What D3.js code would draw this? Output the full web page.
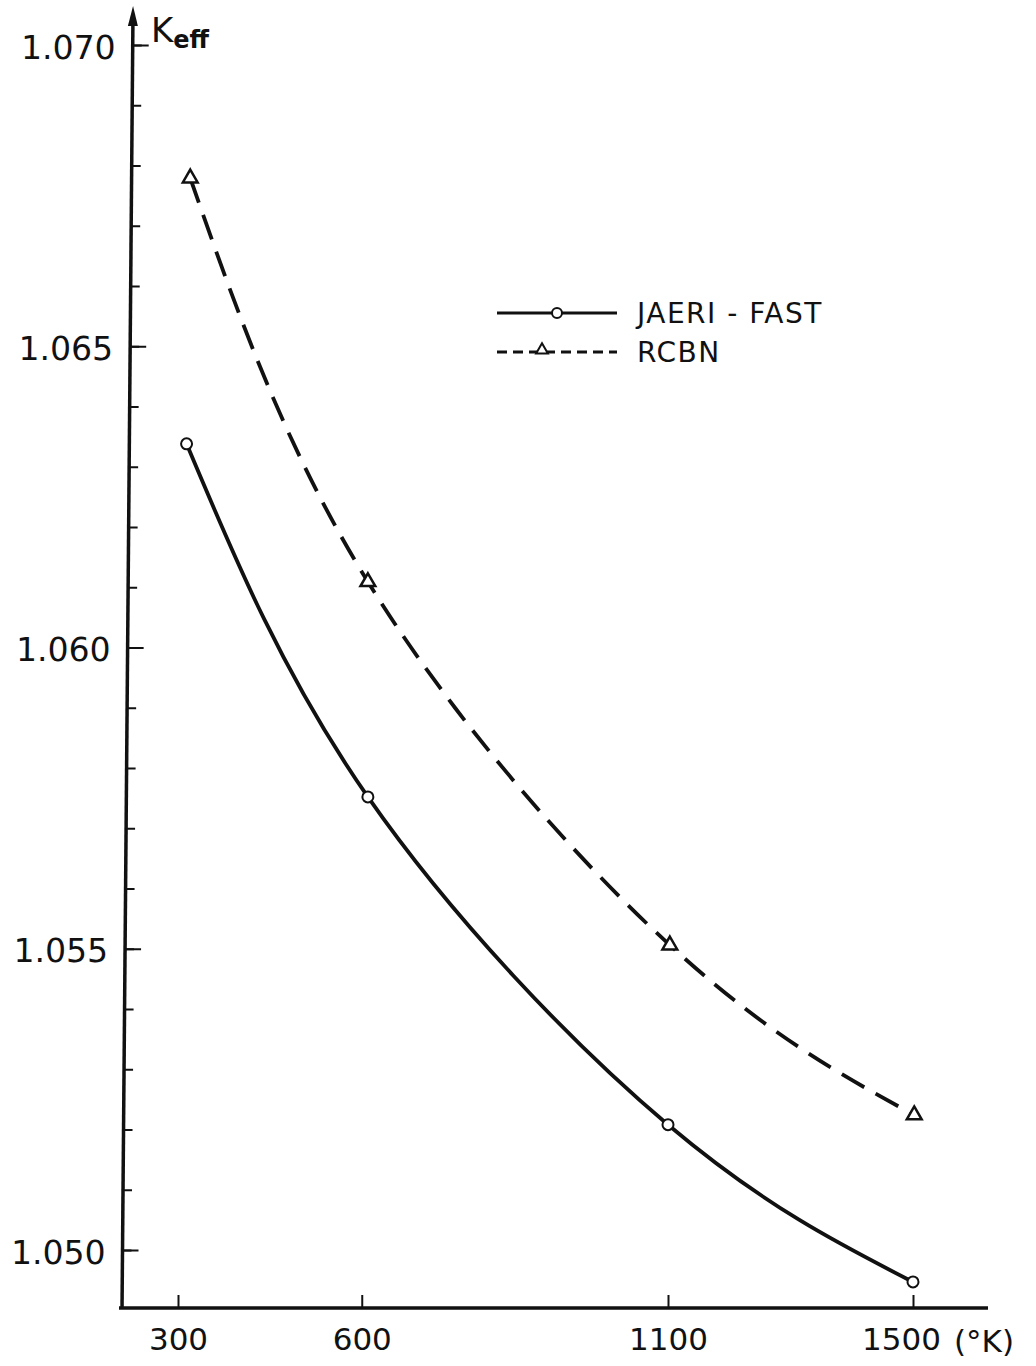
<!DOCTYPE html>
<html>
<head>
<meta charset="utf-8">
<script src="https://cdn.jsdelivr.net/npm/d3@7"></script>
<style>
  body { margin: 0; background: #fff; }
  svg text { font-family: "DejaVu Sans", sans-serif; fill: #111; }
</style>
</head>
<body>
<script>
var svgWidth = 1036;
var svgHeight = 1366;

// data
var seriesNames = ['JAERI - FAST', 'RCBN'];
var jaeriTemp = [314, 610, 1100, 1500];
var jaeriKeff = [1.06338, 1.05752, 1.05208, 1.04947];
var rcbnTemp = [320, 610, 1103, 1502];
var rcbnKeff = [1.06779, 1.06109, 1.05506, 1.05224];
var xTickValues = [300, 600, 1100, 1500];
var yMajorTicks = [1.050, 1.055, 1.060, 1.065, 1.070];

var svg = d3.select('body').append('svg')
  .attr('width', svgWidth)
  .attr('height', svgHeight);

var x = d3.scaleLinear().domain([300, 1500]).range([178, 913]);
var y = d3.scaleLinear().domain([1.050, 1.070]).range([1250, 45]);

var axisY = 1308;

// y axis, drawn slightly slanted like the original
var yg = svg.append('g').attr('transform', 'translate(133.1,0) skewX(-0.485)');
yg.append('line')
  .attr('x1', 0).attr('x2', 0)
  .attr('y1', 14).attr('y2', axisY)
  .attr('stroke', '#111').attr('stroke-width', 3.5);
yg.append('path')
  .attr('d', 'M0,6 L-5,26 L5,26 Z')
  .attr('fill', '#111');

var minor = yg.append('g').call(d3.axisLeft(y).ticks(20).tickSize(-9).tickFormat(''));
minor.select('.domain').remove();
minor.selectAll('line').attr('stroke', '#111').attr('stroke-width', 2);

var major = yg.append('g').call(d3.axisLeft(y).tickValues(yMajorTicks).tickSize(-16).tickPadding(17)
  .tickFormat(d3.format('.3f')));
major.select('.domain').remove();
major.selectAll('line').attr('stroke', '#111').attr('stroke-width', 2);
major.selectAll('text').style('font-size', '33px').attr('dy', '0.4em');

// x axis
svg.append('line')
  .attr('x1', 119).attr('x2', 988)
  .attr('y1', axisY).attr('y2', axisY)
  .attr('stroke', '#111').attr('stroke-width', 3.5);

var xg = svg.append('g').attr('transform', 'translate(0,' + axisY + ')')
  .call(d3.axisBottom(x).tickValues(xTickValues).tickSize(-13).tickPadding(20)
    .tickFormat(d3.format('d')));
xg.select('.domain').remove();
xg.selectAll('line').attr('stroke', '#111').attr('stroke-width', 2);
xg.selectAll('text').style('font-size', '31px')
  .attr('dx', function(d){ return d === 1500 ? -12 : 0; });

svg.append('text').text('(°K)')
  .attr('x', 954).attr('y', 1352)
  .style('font-size', '31px');

// axis title
var title = svg.append('text').attr('x', 151).attr('y', 42);
title.append('tspan').text('K').style('font-size', '34px');
title.append('tspan').text('eff').attr('dy', 6).style('font-size', '24px').style('font-weight', 'bold');

// curves
var line = d3.line()
  .x(function(d){ return x(d[0]); })
  .y(function(d){ return y(d[1]); })
  .curve(d3.curveNatural);

var jaeri = d3.zip(jaeriTemp, jaeriKeff);
var rcbn = d3.zip(rcbnTemp, rcbnKeff);

svg.append('path').datum(rcbn)
  .attr('d', line)
  .attr('fill', 'none').attr('stroke', '#111').attr('stroke-width', 3.8)
  .attr('stroke-dasharray', '26,13');

svg.append('path').datum(jaeri)
  .attr('d', line)
  .attr('fill', 'none').attr('stroke', '#111').attr('stroke-width', 3.8);

var tri = d3.symbol().type(d3.symbolTriangle).size(95);

svg.selectAll('.jp').data(jaeri)
  .enter().append('circle')
  .attr('cx', function(d){ return x(d[0]); })
  .attr('cy', function(d){ return y(d[1]); })
  .attr('r', 5.5)
  .attr('fill', '#fff').attr('stroke', '#111').attr('stroke-width', 2);

svg.selectAll('.rp').data(rcbn)
  .enter().append('path')
  .attr('d', tri)
  .attr('transform', function(d){ return 'translate(' + x(d[0]) + ',' + y(d[1]) + ')'; })
  .attr('fill', '#fff').attr('stroke', '#111').attr('stroke-width', 2.5);

// legend
var legend = svg.append('g');
legend.append('line')
  .attr('x1', 497).attr('x2', 617).attr('y1', 313).attr('y2', 313)
  .attr('stroke', '#111').attr('stroke-width', 3);
legend.append('circle')
  .attr('cx', 557).attr('cy', 313).attr('r', 5)
  .attr('fill', '#fff').attr('stroke', '#111').attr('stroke-width', 2);
legend.append('line')
  .attr('x1', 497).attr('x2', 617).attr('y1', 352).attr('y2', 352)
  .attr('stroke', '#111').attr('stroke-width', 3)
  .attr('stroke-dasharray', '10,6');
legend.append('path')
  .attr('d', d3.symbol().type(d3.symbolTriangle).size(60))
  .attr('transform', 'translate(542,350)')
  .attr('fill', '#fff').attr('stroke', '#111').attr('stroke-width', 2);

legend.selectAll('.lt').data(seriesNames)
  .enter().append('text')
  .text(function(d){ return d; })
  .attr('x', 637)
  .attr('y', function(d, i){ return 323 + i * 39; })
  .style('font-size', '28px')
  .style('letter-spacing', '1.5px');
</script>
</body>
</html>
